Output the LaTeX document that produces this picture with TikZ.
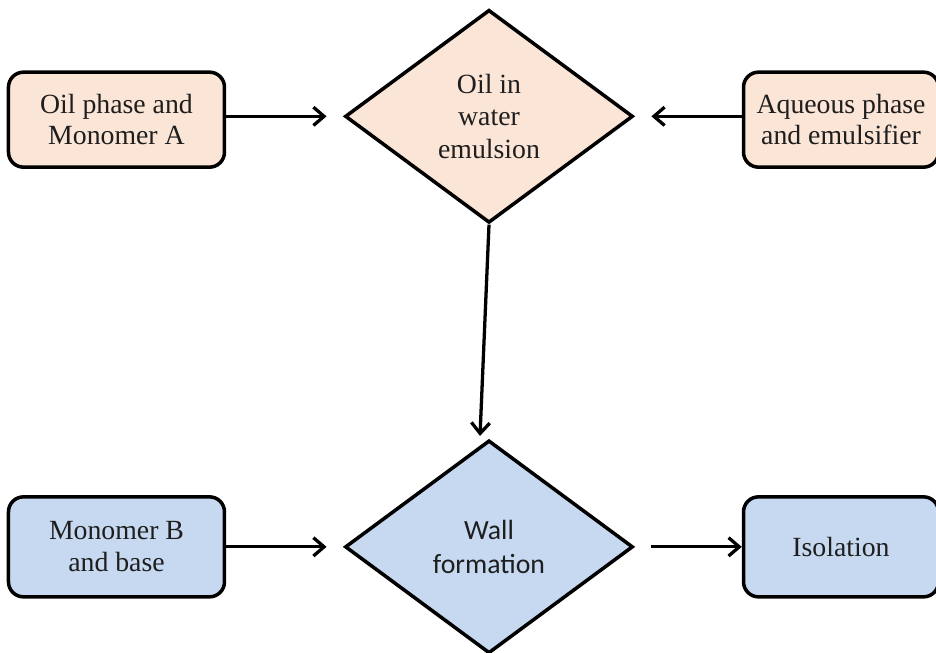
\documentclass[tikz,border=0pt]{standalone}
\usepackage{fontspec}
\setmainfont{Liberation Serif}
\newfontfamily\carlito{Carlito}
\usepackage{xcolor}
\usepackage{tikz}
\usetikzlibrary{positioning,arrows.meta,shapes.geometric}
\definecolor{peachfill}{RGB}{251,229,214}
\definecolor{bluefill}{RGB}{198,217,240}
\definecolor{inktext}{RGB}{30,30,30}
\tikzset{
  stage/.style={rounded corners=0.45cm, draw=black, line width=3pt, align=center, text=inktext, minimum width=6.48cm, minimum height=2.85cm, font=\fontsize{23.7}{27}\selectfont},
  junction/.style={diamond, draw=black, line width=3pt, align=center, text=inktext, inner sep=0pt, minimum width=8.64cm, minimum height=6.39cm, font=\fontsize{23.7}{27.5}\selectfont},
  arr/.style={-{Straight Barb[length=3.2mm,width=5.5mm]}, line width=2.8pt, draw=black},
}
\begin{document}
\begin{tikzpicture}
    \useasboundingbox (0,0) rectangle (28.08,19.56);
    \node[junction, fill=peachfill] (emul) at (14.67,16.07) {Oil in\\ water\\ emulsion};
    \node[stage, fill=peachfill, left=3.51cm of emul, yshift=-0.1cm] (oil) {Oil phase and\\ Monomer A};
    \node[stage, fill=peachfill, minimum width=5.85cm, right=3.21cm of emul, yshift=-0.1cm] (aqu) {Aqueous phase\\ and emulsifier};
    \node[junction, fill=bluefill, font=\carlito\fontsize{23.7}{28.5}\selectfont, below=6.42cm of emul] (wall) {Wall\\ formation};
    \node[stage, fill=bluefill, minimum height=3.0cm, left=3.51cm of wall] (monob) {Monomer B\\ and base};
    \node[stage, fill=bluefill, minimum width=5.85cm, minimum height=3.0cm, right=3.21cm of wall] (iso) {Isolation};
    \draw[arr] (oil.east |- emul.west) -- ([xshift=-0.5cm]emul.west);
    \draw[arr] (aqu.west |- emul.east) -- ([xshift=0.5cm]emul.east);
    \draw[arr] (emul.south) -- ([xshift=-0.27cm,yshift=0.08cm]wall.north);
    \draw[arr] (monob) -- ([xshift=-0.5cm]wall.west);
    \draw[arr] ([xshift=0.5cm]wall.east) -- (iso);
  \end{tikzpicture}
\end{document}
